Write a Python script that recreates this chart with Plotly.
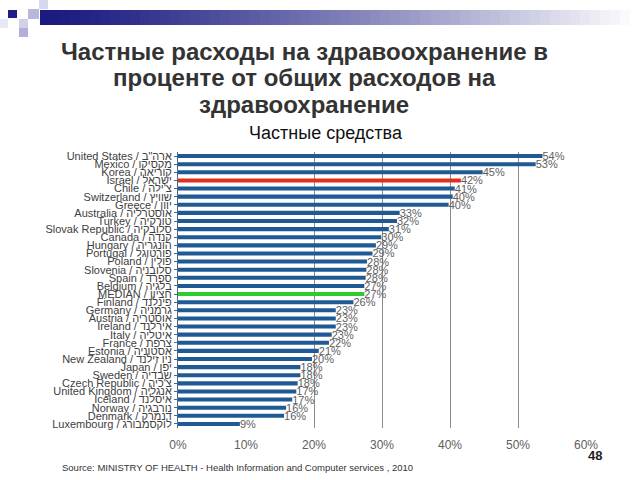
import plotly.graph_objects as go

countries = [
    "United States / ארה\"ב", "Mexico / מקסיקו", "Korea / קוריאה", "Israel / ישראל",
    "Chile / צ'ילה", "Switzerland / שוויץ", "Greece / יוון", "Australia / אוסטרליה",
    "Turkey / טורקיה", "Slovak Republic / סלובקיה", "Canada / קנדה", "Hungary / הונגריה",
    "Portugal / פורטוגל", "Poland / פולין", "Slovenia / סלובניה", "Spain / ספרד",
    "Belgium / בלגיה", "MEDIAN / חציון", "Finland / פינלנד", "Germany / גרמניה",
    "Austria / אוסטריה", "Ireland / אירלנד", "Italy / איטליה", "France / צרפת",
    "Estonia / אסטוניה", "New Zealand / ניו זילנד", "Japan / יפן", "Sweden / שבדיה",
    "Czech Republic / צ'כיה", "United Kingdom / אנגליה", "Iceland / איסלנד",
    "Norway / נורבגיה", "Denmark / דנמרק", "Luxembourg / לוקסמבורג",
]
private_share = [
    53.6, 52.6, 44.8, 41.6, 40.7, 40.4, 39.8, 32.6, 32.2, 31.0, 29.9, 29.1,
    28.6, 27.8, 27.7, 27.6, 27.4, 27.4, 25.8, 23.2, 23.2, 23.2, 22.6, 22.2,
    20.7, 19.7, 18.0, 18.0, 17.6, 17.4, 16.8, 15.9, 15.6, 9.1,
]
x_ticks = [0, 10, 20, 30, 40, 50, 60]
x_tick_text = ["0%", "10%", "20%", "30%", "40%", "50%", "60%"]
grid_vals = [20, 30, 40, 50]

title_lines = [
    "Частные расходы на здравоохранение в",
    "проценте от общих расходов на",
    "здравоохранение",
]
subtitle = "Частные средства"
source = "Source: MINISTRY OF HEALTH - Health Information and Computer services , 2010"
page_no = "48"

BLUE = "#1F5A94"
colors = []
for c in countries:
    if c.startswith("Israel"):
        colors.append("#E0301E")
    elif c.startswith("MEDIAN"):
        colors.append("#2ECC2E")
    else:
        colors.append(BLUE)

ML, MR, MT, MB = 178, 54, 152, 52
W, H = 640, 480

fig = go.Figure()
fig.add_trace(go.Bar(
    y=countries, x=private_share, orientation="h",
    marker=dict(color=colors, line=dict(width=0)),
    text=[f"{v:.0f}%" for v in private_share],
    textposition="outside", cliponaxis=False, constraintext="none",
    textfont=dict(family="Liberation Sans, Arial", size=11, color="#606060"),
    width=0.5, hoverinfo="skip",
))
fig.add_trace(go.Scatter(x=[None], y=[None], xaxis="x2", showlegend=False))

fig.update_layout(
    width=W, height=H,
    margin=dict(l=ML, r=MR, t=MT, b=MB, autoexpand=False),
    paper_bgcolor="white", plot_bgcolor="white",
    showlegend=False,
    font=dict(family="Liberation Sans, Arial", color="#404040"),
    xaxis=dict(
        range=[0, 60], tickvals=x_ticks, ticktext=x_tick_text,
        showgrid=False, zeroline=False, showline=False,
        tickfont=dict(size=12, color="#606060"),
        ticks="outside", ticklen=6, tickcolor="rgba(0,0,0,0)",
    ),
    xaxis2=dict(
        range=[0, 60], overlaying="x", side="bottom", matches="x",
        tickvals=grid_vals, showticklabels=False, showgrid=True,
        gridcolor="#8C8C8C", gridwidth=1, zeroline=False, showline=False,
    ),
    yaxis=dict(
        autorange="reversed", tickmode="array", tickvals=countries,
        tickfont=dict(size=11, color="#404040"),
        showline=True, linecolor="#4A6A8A", linewidth=1,
        ticks="outside", ticklen=3, tickcolor="#4A6A8A",
        showgrid=False,
    ),
    bargap=0.5,
)


def px(x):
    return (x - ML) / (W - ML - MR)


def py(y):
    return 1 - (y - MT) / (H - MT - MB)


ys = [52, 78, 104]
for line, yy in zip(title_lines, ys):
    fig.add_annotation(
        text=f"<b>{line}</b>", x=px(304), y=py(yy), xref="paper", yref="paper",
        xanchor="center", yanchor="middle", showarrow=False,
        font=dict(family="Liberation Sans, Arial", size=24, color="#333333"),
    )
fig.add_annotation(
    text=subtitle, x=px(326), y=py(133), xref="paper", yref="paper",
    xanchor="center", yanchor="middle", showarrow=False,
    font=dict(family="Liberation Sans, Arial", size=18, color="#111111"),
)
fig.add_annotation(
    text=source, x=px(60), y=py(467), xref="paper", yref="paper",
    xanchor="left", yanchor="middle", showarrow=False,
    font=dict(family="Liberation Sans, Arial", size=9.5, color="#333333"),
)
fig.add_annotation(
    text=f"<b>{page_no}</b>", x=px(604), y=py(455), xref="paper", yref="paper",
    xanchor="right", yanchor="middle", showarrow=False,
    font=dict(family="Liberation Sans, Arial", size=13, color="#222222"),
)

shapes = []
n = 60
x0, x1 = 40, 640
for i in range(n):
    t = i / (n - 1)
    r = int(26 + (255 - 26) * t ** 1.2)
    g = int(26 + (255 - 26) * t ** 1.2)
    b = int(128 + (255 - 128) * t ** 1.2)
    xa = x0 + (x1 - x0) * i / n
    xb = x0 + (x1 - x0) * (i + 1) / n + 0.5
    shapes.append(dict(type="rect", xref="paper", yref="paper",
                       x0=px(xa), x1=px(xb), y0=py(25), y1=py(10),
                       fillcolor=f"rgb({r},{g},{b})", line=dict(width=0), layer="above"))
squares = [
    (8, 10, 17, 18, "#1E1E88"),
    (28, 9, 39, 19, "#B8B8DC"),
    (39, 0, 48, 9, "#D8D8EC"),
    (19, 19, 28, 28, "#D0D0E8"),
    (19, 28, 28, 37, "#B0B0D8"),
    (0, 19, 8, 28, "#E8E8F4"),
]
for (a, b_, c, d, col) in squares:
    shapes.append(dict(type="rect", xref="paper", yref="paper",
                       x0=px(a), x1=px(c), y0=py(d), y1=py(b_),
                       fillcolor=col, line=dict(width=0), layer="above"))
fig.update_layout(shapes=shapes)

fig.write_html("out.html", config={"displayModeBar": False},
               post_script="document.body.style.margin='0';")
